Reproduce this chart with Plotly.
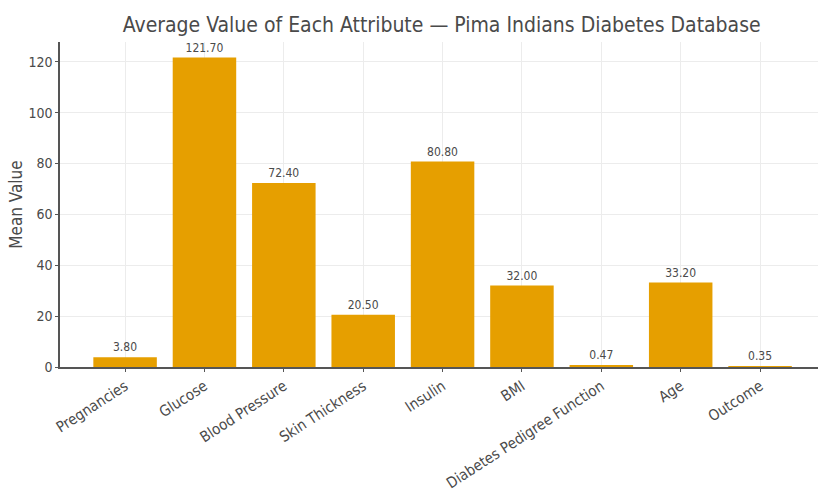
import plotly.graph_objects as go

# Mean of each attribute in the Pima Indians Diabetes dataset
attributes = ["Pregnancies", "Glucose", "Blood Pressure", "Skin Thickness",
              "Insulin", "BMI", "Diabetes Pedigree Function", "Age", "Outcome"]
mean_values = [3.80, 121.70, 72.40, 20.50, 80.80, 32.00, 0.47, 33.20, 0.35]
y_ticks = [0, 20, 40, 60, 80, 100, 120]

BAR_COLOR = "#E69F00"
TEXT_COLOR = "#4a4a4a"
FONT = "DejaVu Sans Condensed, Liberation Sans Narrow, DejaVu Sans"

fig = go.Figure(
    go.Bar(
        x=list(range(len(attributes))),
        y=mean_values,
        width=0.8,
        marker=dict(color=BAR_COLOR, line=dict(width=0)),
        text=[f"{v:.2f}" for v in mean_values],
        textposition="outside",
        textfont=dict(family=FONT, size=12, color=TEXT_COLOR),
        cliponaxis=False,
    )
)

fig.update_layout(
    width=818,
    height=502,
    margin=dict(l=60, r=0, t=42, b=135),
    plot_bgcolor="white",
    paper_bgcolor="white",
    showlegend=False,
    title=dict(
        text="Average Value of Each Attribute — Pima Indians Diabetes Database",
        x=0.54, xanchor="center", y=0.95, yanchor="middle",
        font=dict(family=FONT, size=21, color=TEXT_COLOR),
    ),
    font=dict(family=FONT, color=TEXT_COLOR),
)

fig.update_xaxes(
    range=[-0.82, 8.73],
    tickmode="array",
    tickvals=list(range(len(attributes))),
    ticktext=attributes,
    tickangle=-33,
    tickfont=dict(family=FONT, size=15, color=TEXT_COLOR),
    showgrid=True, gridcolor="#ececec", gridwidth=1,
    showline=True, linecolor="#555555", linewidth=1.5,
    ticks="outside", ticklen=3, tickcolor="#555555",
    zeroline=False,
)

fig.update_yaxes(
    range=[0, 127.8],
    tickmode="array",
    tickvals=y_ticks,
    tickfont=dict(family=FONT, size=14, color=TEXT_COLOR),
    title=dict(text="Mean Value", font=dict(family=FONT, size=17, color=TEXT_COLOR), standoff=1),
    showgrid=True, gridcolor="#ececec", gridwidth=1,
    showline=True, linecolor="#555555", linewidth=1.5,
    ticks="outside", ticklen=3, tickcolor="#555555",
    zeroline=False,
)

fig.write_html("out.html")
